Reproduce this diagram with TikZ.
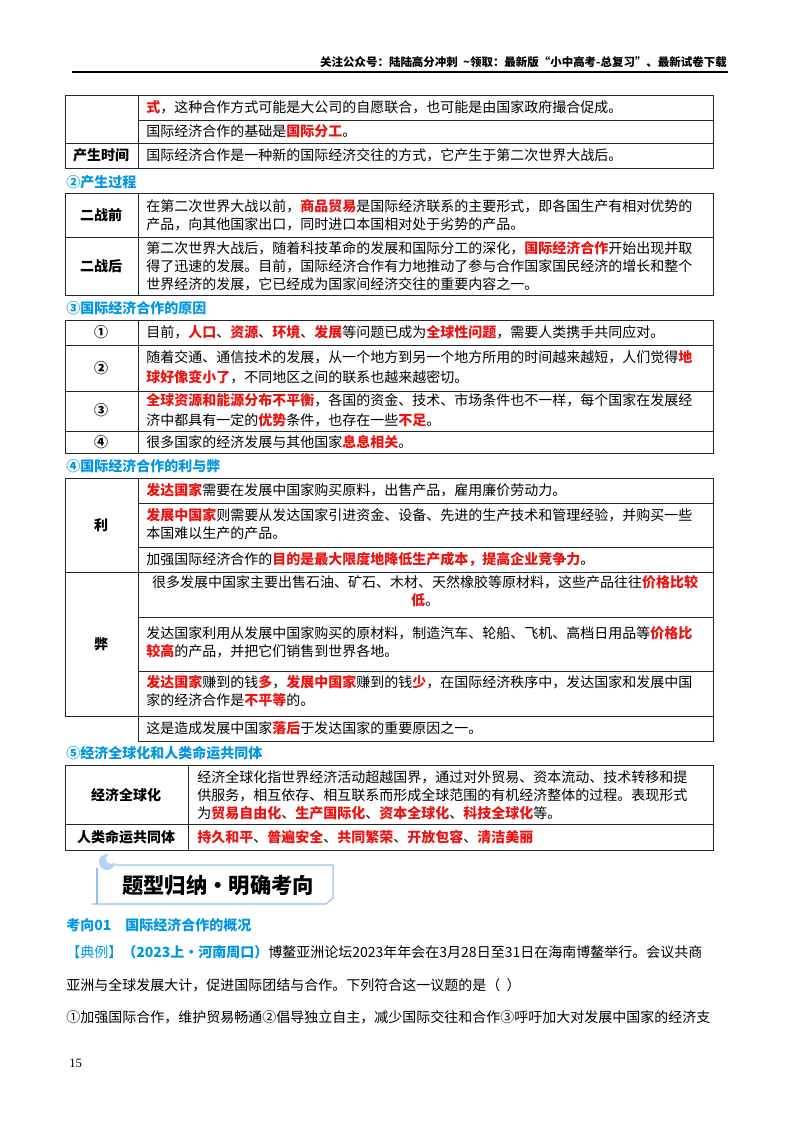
\documentclass[tikz,border=0pt]{standalone}
\usepackage{fontspec}
\setmainfont{Noto Sans CJK SC}
\newfontfamily\serifnum{Liberation Serif}
\XeTeXlinebreaklocale "zh"
\XeTeXlinebreakskip=0pt plus 1pt
\definecolor{hlred}{RGB}{235,20,20}
\definecolor{ttl}{RGB}{0,150,225}
\definecolor{bnr}{RGB}{150,190,240}
\newcommand{\hl}[1]{{\color{hlred}\bfseries #1}}
\tikzset{
 tx/.style={anchor=west,inner sep=0pt,font=\fontsize{10.5}{13.5}\selectfont,align=left},
 hd/.style={inner sep=0pt,font=\fontsize{10.5}{14}\selectfont\bfseries},
 sec/.style={anchor=west,inner sep=0pt,font=\fontsize{10.5}{14}\selectfont\bfseries,text=ttl},
 grid/.style={draw=black!85,line width=0.6pt}
}
\begin{document}
\begin{tikzpicture}[x=0.75pt,y=-0.75pt]
\useasboundingbox (0,0) rectangle (800,1132);
% header
\node[anchor=east,inner sep=0pt,font=\fontsize{8.6}{10}\selectfont\bfseries] (hdr) at (727,62) {关注公众号：陆陆高分冲刺 \ \textasciitilde 领取：最新版“小中高考-总复习”、最新试卷下载};
\draw[line width=1.2pt] (72,72) -- (728,72);
% table 1
\draw[grid] (65,95) rectangle (713,168);
\draw[grid] (138,95) -- (138,168) (138,120) -- (713,120) (65,143) -- (713,143);
\node[tx] (t1a) at (146,107) {\hl{式}，这种合作方式可能是大公司的自愿联合，也可能是由国家政府撮合促成。};
\node[tx] (t1b) at (146,131) {国际经济合作的基础是\hl{国际分工}。};
\node[hd] (t1h) at (101,155) {产生时间};
\node[tx] (t1c) at (146,155) {国际经济合作是一种新的国际经济交往的方式，它产生于第二次世界大战后。};
\node[sec] (s2) at (66,182) {②产生过程};
% table 2
\draw[grid] (65,193) rectangle (713,295);
\draw[grid] (138,193) -- (138,295) (65,237) -- (713,237);
\node[hd] (t2h1) at (101,215) {二战前};
\node[tx] (t2a) at (146,215) {在第二次世界大战以前，\hl{商品贸易}是国际经济联系的主要形式，即各国生产有相对优势的\\产品，向其他国家出口，同时进口本国相对处于劣势的产品。};
\node[hd] (t2h2) at (101,266) {二战后};
\node[tx] (t2b) at (146,266) {第二次世界大战后，随着科技革命的发展和国际分工的深化，\hl{国际经济合作}开始出现并取\\得了迅速的发展。目前，国际经济合作有力地推动了参与合作国家国民经济的增长和整个\\世界经济的发展，它已经成为国家间经济交往的重要内容之一。};
\node[sec] (s3) at (66,308) {③国际经济合作的原因};
% table 3
\draw[grid] (65,320) rectangle (713,453);
\draw[grid] (138,320) -- (138,453) (65,345) -- (713,345) (65,391) -- (713,391) (65,431) -- (713,431);
\node[hd] (r1) at (101,332) {①};
\node[tx] (r1t) at (146,332) {目前，\hl{人口}、\hl{资源}、\hl{环境}、\hl{发展}等问题已成为\hl{全球性问题}，需要人类携手共同应对。};
\node[hd] (r2) at (101,368) {②};
\node[tx,font=\fontsize{10.5}{15}\selectfont] (r2t) at (146,367) {随着交通、通信技术的发展，从一个地方到另一个地方所用的时间越来越短，人们觉得\hl{地}\\\hl{球好像变小了}，不同地区之间的联系也越来越密切。};
\node[hd] (r3) at (101,410) {③};
\node[tx,font=\fontsize{10.5}{15}\selectfont] (r3t) at (146,410) {\hl{全球资源和能源分布不平衡}，各国的资金、技术、市场条件也不一样，每个国家在发展经\\济中都具有一定的\hl{优势}条件，也存在一些\hl{不足}。};
\node[hd] (r4) at (101,442) {④};
\node[tx] (r4t) at (146,442) {很多国家的经济发展与其他国家\hl{息息相关}。};
\node[sec] (s4) at (66,466) {④国际经济合作的利与弊};
% table 4
\draw[grid] (65,478) rectangle (713,716);
\draw[grid] (138,478) -- (138,741) -- (713,741) -- (713,716);
\draw[grid] (138,503) -- (713,503) (138,547) -- (713,547) (65,572) -- (713,572) (138,617) -- (713,617) (138,671) -- (713,671);
\node[hd] (li) at (101,525) {利};
\node[hd] (bi) at (101,644) {弊};
\node[tx] (l1) at (146,490) {\hl{发达国家}需要在发展中国家购买原料，出售产品，雇用廉价劳动力。};
\node[tx] (l2) at (146,524) {\hl{发展中国家}则需要从发达国家引进资金、设备、先进的生产技术和管理经验，并购买一些\\本国难以生产的产品。};
\node[tx] (l3) at (146,559) {加强国际经济合作的\hl{目的是最大限度地降低生产成本，提高企业竞争力}。};
\node[tx,anchor=center,align=center] (b1) at (425,591) {很多发展中国家主要出售石油、矿石、木材、天然橡胶等原材料，这些产品往往\hl{价格比较}\\\hl{低}。};
\node[tx] (b2) at (146,642) {发达国家利用从发展中国家购买的原材料，制造汽车、轮船、飞机、高档日用品等\hl{价格比}\\\hl{较高}的产品，并把它们销售到世界各地。};
\node[tx] (b3) at (146,691) {\hl{发达国家}赚到的钱\hl{多}，\hl{发展中国家}赚到的钱\hl{少}，在国际经济秩序中，发达国家和发展中国\\家的经济合作是\hl{不平等}的。};
\node[tx] (b4) at (146,728) {这是造成发展中国家\hl{落后}于发达国家的重要原因之一。};
\node[sec] (s5) at (66,753) {⑤经济全球化和人类命运共同体};
% table 5
\draw[grid] (65,765) rectangle (713,850);
\draw[grid] (188,765) -- (188,850) (65,824) -- (713,824);
\node[hd] (g1) at (126,795) {经济全球化};
\node[tx] (g1t) at (197,795) {经济全球化指世界经济活动超越国界，通过对外贸易、资本流动、技术转移和提\\供服务，相互依存、相互联系而形成全球范围的有机经济整体的过程。表现形式\\为\hl{贸易自由化}、\hl{生产国际化}、\hl{资本全球化}、\hl{科技全球化}等。};
\node[hd] (g2) at (126,837) {人类命运共同体};
\node[tx] (g2t) at (197,837) {\hl{持久和平}、\hl{普遍安全}、\hl{共同繁荣}、\hl{开放包容}、\hl{清洁美丽}};
% banner
\draw[bnr,line width=0.8pt] (112,865) -- (333,865) -- (333,898) -- (326,904) -- (92,904);
\draw[bnr,line width=0.8pt] (97,868) -- (97,904);
\fill[bnr!70] (107,862) circle (8);
\fill[white] (111,859) circle (5);
\node[inner sep=0pt,font=\fontsize{16}{20}\selectfont\bfseries] (bt) at (218,885) {题型归纳·明确考向};
\node[sec] (k1) at (66,925) {考向01\quad 国际经济合作的概况};
\node[tx,font=\fontsize{10.5}{24.5}\selectfont,anchor=north west] (p) at (66,945) {{\color{ttl}【典例】\bfseries （2023上·河南周口）}博鳌亚洲论坛2023年年会在3月28日至31日在海南博鳌举行。会议共商\\亚洲与全球发展大计，促进国际团结与合作。下列符合这一议题的是（\ \ ）\\①加强国际合作，维护贸易畅通②倡导独立自主，减少国际交往和合作③呼吁加大对发展中国家的经济支};
\node[anchor=west,inner sep=0pt,font=\serifnum\fontsize{9.5}{11}\selectfont] (pg) at (69,1063) {15};
\end{tikzpicture}
\end{document}
